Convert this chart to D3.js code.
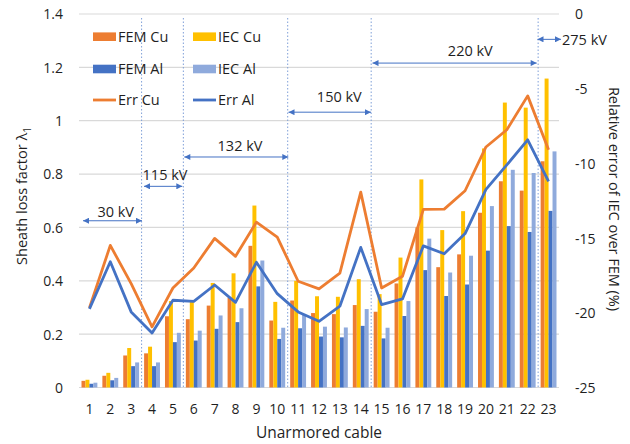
<!DOCTYPE html>
<html>
<head>
<meta charset="utf-8">
<script src="https://cdn.jsdelivr.net/npm/d3@7"></script>
<style>
  html, body { margin: 0; padding: 0; background: #fff; }
  svg text { font-family: "Open Sans", "Noto Sans", sans-serif; fill: #1f1f1f; }
</style>
</head>
<body>
<svg id="chart" width="630" height="444"></svg>
<script>
// ---- data ----
const categories = ["1","2","3","4","5","6","7","8","9","10","11","12","13","14","15","16","17","18","19","20","21","22","23"];
const femCu = [0.025,0.044,0.120,0.128,0.267,0.256,0.307,0.337,0.531,0.251,0.326,0.279,0.275,0.309,0.284,0.390,0.600,0.451,0.499,0.655,0.773,0.738,0.848];
const iecCu = [0.029,0.055,0.148,0.153,0.324,0.321,0.392,0.428,0.682,0.321,0.400,0.342,0.340,0.406,0.350,0.487,0.780,0.590,0.661,0.896,1.068,1.049,1.158];
const femAl = [0.014,0.027,0.080,0.080,0.170,0.176,0.220,0.245,0.379,0.182,0.222,0.191,0.188,0.231,0.184,0.268,0.440,0.343,0.386,0.513,0.605,0.583,0.662];
const iecAl = [0.018,0.036,0.094,0.094,0.205,0.213,0.270,0.297,0.476,0.224,0.272,0.228,0.225,0.294,0.224,0.324,0.558,0.431,0.494,0.680,0.816,0.804,0.885];
const errCu = [-19.67,-15.49,-18.05,-20.94,-18.34,-17.00,-15.02,-16.22,-13.93,-14.93,-17.89,-18.40,-17.34,-11.92,-18.34,-17.56,-13.08,-13.06,-11.83,-8.90,-7.75,-5.48,-9.09];
const errAl = [-19.74,-16.58,-19.94,-21.35,-19.16,-19.23,-18.14,-19.30,-16.62,-18.72,-19.94,-20.57,-19.56,-15.62,-19.45,-19.07,-15.52,-16.05,-14.70,-11.74,-10.10,-8.42,-11.21];
const leftTicks = [0, 0.2, 0.4, 0.6, 0.8, 1, 1.2, 1.4];
const rightTicks = [-25, -20, -15, -10, -5, 0];
const barSeries = ["FEM Cu", "IEC Cu", "FEM Al", "IEC Al"];
const lineSeries = ["Err Cu", "Err Al"];
// voltage groups: label, first cable, last cable
const groupLabels = ["30 kV", "115 kV", "132 kV", "150 kV", "220 kV", "275 kV"];
const groupFirst = [1, 4, 6, 11, 15, 23];
const groupLast  = [3, 5, 10, 14, 22, 23];

// ---- layout ----
const colors = {"FEM Cu":"#ED7D31","IEC Cu":"#FFC000","FEM Al":"#4472C4","IEC Al":"#8FAADC","Err Cu":"#ED7D31","Err Al":"#4472C4"};
const svg = d3.select("#chart");
const plot = {left: 79, right: 559, top: 14, bottom: 387.5};

const x = d3.scaleBand().domain(categories).range([plot.left, plot.right]).padding(0);
const bw = x.bandwidth();
const xs = d3.scaleBand().domain(barSeries).range([bw*0.12, bw*0.88]).padding(0);
const y = d3.scaleLinear().domain([0, 1.4]).range([plot.bottom, plot.top]);
const y2 = d3.scaleLinear().domain([-25, 0]).range([plot.bottom, plot.top]);

// gridlines
svg.append("g").selectAll("line").data(leftTicks).join("line")
  .attr("x1", plot.left).attr("x2", plot.right)
  .attr("y1", d => y(d)).attr("y2", d => y(d))
  .attr("stroke", "#d9d9d9").attr("stroke-width", 1.2);

// left axis
const yAxis = d3.axisLeft(y).tickValues(leftTicks).tickSize(0).tickPadding(0).tickFormat(d => String(d));
const gy = svg.append("g").attr("transform", `translate(${plot.left - 16},0)`).call(yAxis);
gy.select(".domain").remove();
gy.selectAll("text").style("font-size", "14px").attr("fill", "#1f1f1f").attr("dy", "0.35em");

// right axis
const y2Axis = d3.axisRight(y2).tickValues(rightTicks).tickSize(0).tickPadding(0).tickFormat(d => String(d));
const gy2 = svg.append("g").attr("transform", `translate(575,0)`).call(y2Axis);
gy2.select(".domain").remove();
gy2.selectAll("text").style("font-size", "14px").attr("fill", "#1f1f1f").attr("dy", "0.35em");

// x axis
const xAxis = d3.axisBottom(x).tickSize(0).tickPadding(0);
const gx = svg.append("g").attr("transform", `translate(0,${plot.bottom + 17})`).call(xAxis);
gx.select(".domain").remove();
gx.selectAll("text").style("font-size", "14px").attr("fill", "#1f1f1f");

// bars
const barData = [femCu, iecCu, femAl, iecAl];
barSeries.forEach((s, si) => {
  svg.append("g").selectAll("rect").data(barData[si]).join("rect")
    .attr("x", (d, i) => x(categories[i]) + xs(s))
    .attr("width", xs.bandwidth())
    .attr("y", d => y(d))
    .attr("height", d => y(0) - y(d))
    .attr("fill", colors[s]);
});

// vertical dividers
const dividers = groupLast.slice(0, 5);
svg.append("g").selectAll("line").data(dividers).join("line")
  .attr("x1", d => x(categories[d-1]) + bw).attr("x2", d => x(categories[d-1]) + bw)
  .attr("y1", 18).attr("y2", plot.bottom)
  .attr("stroke", "#7f9fd8").attr("stroke-width", 1).attr("stroke-dasharray", "1.5,2");

// lines
const lineData = [errCu, errAl];
const lineGen = d3.line().x((d, i) => x(categories[i]) + bw/2).y(d => y2(d));
lineSeries.forEach((s, si) => {
  svg.append("path").datum(lineData[si]).attr("d", lineGen)
    .attr("fill", "none").attr("stroke", colors[s]).attr("stroke-width", 2.8)
    .attr("stroke-linejoin", "round");
});

// arrows
const defs = svg.append("defs");
defs.append("marker").attr("id", "ah").attr("viewBox", "0 0 10 10")
  .attr("refX", 10).attr("refY", 5).attr("markerWidth", 7).attr("markerHeight", 6)
  .attr("markerUnits", "userSpaceOnUse").attr("orient", "auto-start-reverse")
  .append("path").attr("d", "M0,0 L10,5 L0,10 z").attr("fill", "#4472C4");

const arrowYVal = [0.625, 0.754, 0.864, 1.032, 1.216, 1.305];
const arrowX1 = [83, 144, 184.3, 288.5, 372.5, 537.5];
const arrowX2 = [142, 182.3, 288.3, 371, 536.7, 561];
const labelCx = [115.7, 165, 240, 339.3, 470.3, null];
const labelLift = [8.6, 11.7, 11, 15, 12, 0];
groupLabels.forEach((lab, i) => {
  const ay = y(arrowYVal[i]);
  svg.append("line").attr("x1", arrowX1[i]).attr("x2", arrowX2[i])
    .attr("y1", ay).attr("y2", ay).attr("stroke", "#4472C4").attr("stroke-width", 1)
    .attr("marker-start", "url(#ah)").attr("marker-end", "url(#ah)");
  const t = svg.append("text").style("font-size", "14.5px").attr("dy", "0.35em").text(lab);
  if (labelCx[i] === null) {
    t.attr("x", arrowX2[i] + 1).attr("y", ay + 0.5).attr("text-anchor", "start");
  } else {
    t.attr("x", labelCx[i]).attr("y", ay - labelLift[i]).attr("text-anchor", "middle");
  }
});

// legend
const legendItems = ["FEM Cu", "IEC Cu", "FEM Al", "IEC Al", "Err Cu", "Err Al"];
const lg = svg.append("g");
legendItems.forEach((s, i) => {
  const col = i % 2, row = Math.floor(i / 2);
  const lx = 93 + col * 100, ly = [36.7, 69, 100][row];
  if (lineSeries.includes(s)) {
    lg.append("line").attr("x1", lx).attr("x2", lx + 23).attr("y1", ly).attr("y2", ly)
      .attr("stroke", colors[s]).attr("stroke-width", 2.8);
  } else {
    lg.append("rect").attr("x", lx).attr("y", ly - 4.3).attr("width", 23).attr("height", 8.6)
      .attr("fill", colors[s]);
  }
  lg.append("text").attr("x", lx + 25).attr("y", ly).attr("dy", "0.35em")
    .style("font-size", "14.5px").text(s);
});

// axis titles
const lt = svg.append("text").attr("transform", `translate(27,196) rotate(-90)`)
  .attr("text-anchor", "middle").style("font-size", "14.5px");
lt.append("tspan").text("Sheath loss factor λ");
lt.append("tspan").attr("dy", 4).style("font-size", "10px").text("1");

svg.append("text").attr("transform", `translate(609,199) rotate(90)`)
  .attr("text-anchor", "middle").style("font-size", "14.5px")
  .text("Relative error of IEC over FEM (%)");

svg.append("text").attr("x", 319).attr("y", 438).attr("text-anchor", "middle")
  .style("font-size", "15.5px").text("Unarmored cable");
</script>
</body>
</html>
